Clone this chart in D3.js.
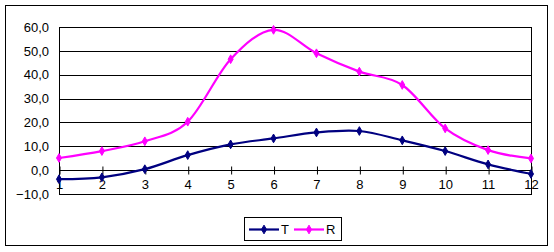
<!DOCTYPE html>
<html><head><meta charset="utf-8">
<script src="https://cdn.jsdelivr.net/npm/d3@7"></script>
<style>body{margin:0;background:#fff}svg{display:block}</style>
</head><body>
<script>
const categories = [1,2,3,4,5,6,7,8,9,10,11,12];
const seriesT = [-3.8,-3.0,0.4,6.3,10.8,13.3,15.8,16.4,12.5,8.0,2.4,-1.6];
const seriesR = [5.1,8.0,12.1,20.3,46.5,58.8,49.0,41.3,35.7,17.5,8.4,4.9];
const yTicks = [-10,0,10,20,30,40,50,60];
const seriesNames = ["T","R"];
const colors = ["#000080","#FF00FF"];

const W=554,H=252;
const svg=d3.select("body").append("svg").attr("width",W).attr("height",H);
const font="'Liberation Sans', Arial, sans-serif";
svg.append("rect").attr("x",5.5).attr("y",5.5).attr("width",542).attr("height",240)
  .attr("fill","#fff").attr("stroke","#000").attr("stroke-width",1);

const x=d3.scalePoint().domain(categories).range([59,531]);
const y=d3.scaleLinear().domain([-10,60]).range([194,27]);

const g=svg.append("g");
// gridlines
g.selectAll("line.grid").data(yTicks).join("line")
  .attr("x1",59).attr("x2",531)
  .attr("y1",d=>Math.round(y(d))+0.5).attr("y2",d=>Math.round(y(d))+0.5)
  .attr("stroke","#000").attr("stroke-width",1);
// plot border sides
g.append("line").attr("x1",59.5).attr("x2",59.5).attr("y1",Math.round(y(60))).attr("y2",Math.round(y(-10))+1).attr("stroke","#000");
g.append("line").attr("x1",531.5).attr("x2",531.5).attr("y1",Math.round(y(60))).attr("y2",Math.round(y(-10))+1).attr("stroke","#000");

// y axis
const yAxis=d3.axisLeft(y).tickValues(yTicks).tickSize(0).tickPadding(10)
  .tickFormat(d=>d3.format(".1f")(d).replace(".",","));
const ya=svg.append("g").attr("transform","translate(59,0)").call(yAxis);
ya.select(".domain").remove();
ya.selectAll("text").attr("font-family",font).attr("font-size",13).attr("fill","#000");

// x axis at zero
const xAxis=d3.axisBottom(x).tickSize(0).tickPadding(9);
const xa=svg.append("g").attr("transform",`translate(0,${Math.round(y(0))+0.5})`).call(xAxis);
xa.select(".domain").remove();
xa.selectAll("text").attr("font-family",font).attr("font-size",13).attr("fill","#000");
xa.selectAll(".tick").append("line").attr("x1",0.5).attr("x2",0.5).attr("y1",-4).attr("y2",4).attr("stroke","#000");

// lines
const data=[seriesT,seriesR];
const line=d3.line().x((d,i)=>x(categories[i])).y(d=>y(d)).curve(d3.curveCatmullRom.alpha(0));
const diamond=d3.symbol().type(d3.symbolDiamond).size(22);
data.forEach((s,k)=>{
  svg.append("path").attr("d",line(s)).attr("fill","none").attr("stroke",colors[k]).attr("stroke-width",2.2);
  svg.selectAll(null).data(s).join("path").attr("d",diamond)
    .attr("transform",(d,i)=>`translate(${x(categories[i])},${y(d)})`)
    .attr("fill",colors[k]).attr("stroke",colors[k]).attr("stroke-width",1);
});

// legend
const lg=svg.append("g");
lg.append("rect").attr("x",244.5).attr("y",217.5).attr("width",97).attr("height",23).attr("fill","#fff").attr("stroke","#000");
const lx=[249,294];
seriesNames.forEach((n,k)=>{
  lg.append("line").attr("x1",lx[k]).attr("x2",lx[k]+30).attr("y1",229.5).attr("y2",229.5).attr("stroke",colors[k]).attr("stroke-width",2.2);
  lg.append("path").attr("d",diamond).attr("transform",`translate(${lx[k]+15},229.5)`).attr("fill",colors[k]).attr("stroke",colors[k]);
  lg.append("text").attr("x",lx[k]+32).attr("y",234).text(n).attr("font-family",font).attr("font-size",13).attr("fill","#000");
});
</script>
</body></html>
